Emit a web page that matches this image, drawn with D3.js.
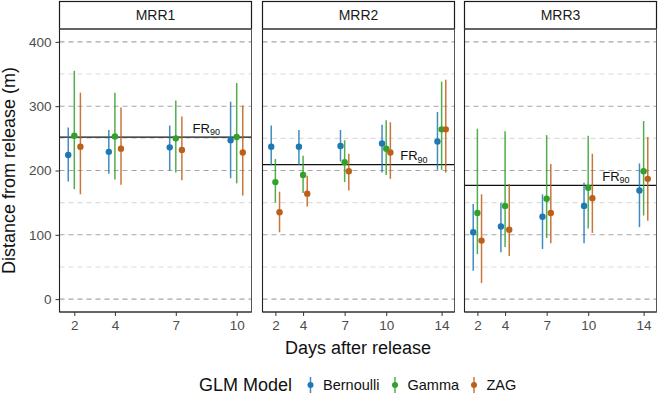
<!DOCTYPE html>
<html>
<head>
<meta charset="utf-8">
<script src="https://cdn.jsdelivr.net/npm/d3@7"></script>
<style>
  body { margin: 0; background: #fff; }
  svg { font-family: "Liberation Sans", Arial, sans-serif; }
</style>
</head>
<body>
<div id="chart"></div>
<script>
// Data
const panels = ["MRR1", "MRR2", "MRR3"];
const models = ["Bernoulli", "Gamma", "ZAG"];
const panelDays = [[2, 4, 7, 10], [2, 4, 7, 10, 14], [2, 4, 7, 10, 14]];
const yTicks = [0, 100, 200, 300, 400];
const yMinor = [50, 150, 250, 350];

// estimate / lower / upper per model, one inner array per panel
const bernoulliEst = [[224, 229, 236, 247], [237, 237, 238, 242, 245], [104, 113, 128, 145, 169]];
const bernoulliLo  = [[183, 195, 200, 188], [208, 208, 214, 197, 201], [44, 73, 78, 87, 112]];
const bernoulliHi  = [[267, 263, 270, 307], [270, 263, 263, 271, 291], [148, 150, 163, 181, 211]];

const gammaEst = [[254, 253, 250, 252], [182, 193, 213, 234, 264], [134, 145, 156, 173, 199]];
const gammaLo  = [[171, 186, 197, 180], [150, 165, 182, 193, 201], [70, 81, 95, 110, 130]];
const gammaHi  = [[355, 321, 309, 336], [218, 223, 247, 278, 338], [265, 261, 255, 254, 277]];

const zagEst = [[237, 234, 232, 228], [135, 164, 199, 228, 264], [91, 108, 134, 157, 187]];
const zagLo  = [[163, 178, 185, 161], [104, 144, 169, 187, 197], [25, 67, 87, 103, 122]];
const zagHi  = [[321, 298, 284, 301], [167, 192, 226, 275, 341], [163, 179, 210, 226, 252]];

const fr90 = [252, 209, 177];
const fr90LabelDay = [8.5, 12, 12];

const series = {
    Bernoulli: { est: bernoulliEst, lo: bernoulliLo, hi: bernoulliHi },
    Gamma: { est: gammaEst, lo: gammaLo, hi: gammaHi },
    ZAG: { est: zagEst, lo: zagLo, hi: zagHi }
};

const color = d3.scaleOrdinal()
    .domain(models)
    .range(["#1F78B4", "#33A02C", "#BD5F17"]);

// layout
const W = 658, H = 396;
const panelLeft = [59.5, 262.5, 464.5];
const panelW = 192;
const stripTop = 1.5, stripH = 27.5;
const plotTop = 29, plotBottom = 312;
const dodge = 0.3;

const svg = d3.select("#chart").append("svg")
    .attr("width", W)
    .attr("height", H);

const y = d3.scaleLinear()
    .domain([-20, 420])
    .range([plotBottom, plotTop]);

panels.forEach((name, p) => {
    const days = panelDays[p];
    const lo = d3.min(days) - dodge, hi = d3.max(days) + dodge;
    const pad = (hi - lo) * 0.05;
    const x = d3.scaleLinear()
        .domain([lo - pad, hi + pad])
        .range([panelLeft[p], panelLeft[p] + panelW]);

    const g = svg.append("g");

    // strip
    g.append("rect")
        .attr("x", panelLeft[p])
        .attr("y", stripTop)
        .attr("width", panelW)
        .attr("height", stripH)
        .attr("fill", "#fff")
        .attr("stroke", "#1a1a1a")
        .attr("stroke-width", 1.2);

    g.append("text")
        .attr("x", panelLeft[p] + panelW / 2)
        .attr("y", stripTop + stripH / 2)
        .attr("dy", "0.36em")
        .attr("text-anchor", "middle")
        .style("font-size", "14px")
        .attr("fill", "#1a1a1a")
        .text(name);

    // gridlines
    g.selectAll(".minor")
        .data(yMinor)
        .enter().append("line")
        .attr("x1", panelLeft[p]).attr("x2", panelLeft[p] + panelW)
        .attr("y1", d => y(d)).attr("y2", d => y(d))
        .attr("stroke", "#dcdcdc")
        .attr("stroke-width", 1.1)
        .attr("stroke-dasharray", "5,4");

    g.selectAll(".major")
        .data(yTicks)
        .enter().append("line")
        .attr("x1", panelLeft[p]).attr("x2", panelLeft[p] + panelW)
        .attr("y1", d => y(d)).attr("y2", d => y(d))
        .attr("stroke", "#a6a6a6")
        .attr("stroke-width", 1.1)
        .attr("stroke-dasharray", "5,4");

    // FR90 line + label
    g.append("line")
        .attr("x1", panelLeft[p]).attr("x2", panelLeft[p] + panelW)
        .attr("y1", y(fr90[p])).attr("y2", y(fr90[p]))
        .attr("stroke", "#111")
        .attr("stroke-width", 1.2);

    const lab = g.append("text")
        .attr("x", x(fr90LabelDay[p]))
        .attr("y", y(fr90[p]) - 4.5)
        .attr("text-anchor", "middle")
        .style("font-size", "13px")
        .attr("fill", "#111");
    lab.append("tspan").text("FR");
    lab.append("tspan")
        .attr("dy", 2.5)
        .style("font-size", "9px")
        .text("90");

    // error bars and points
    models.forEach((m, k) => {
        const s = series[m];
        const rows = days.map((d, i) => ({
            day: d,
            est: s.est[p][i],
            lo: s.lo[p][i],
            hi: s.hi[p][i]
        }));
        const off = (k - 1) * dodge;

        g.selectAll(".range-" + m)
            .data(rows)
            .enter().append("line")
            .attr("x1", d => x(d.day + off))
            .attr("x2", d => x(d.day + off))
            .attr("y1", d => y(d.lo))
            .attr("y2", d => y(d.hi))
            .attr("stroke", color(m))
            .attr("stroke-opacity", 0.85)
            .attr("stroke-width", 1.5);

        g.selectAll(".pt-" + m)
            .data(rows)
            .enter().append("circle")
            .attr("cx", d => x(d.day + off))
            .attr("cy", d => y(d.est))
            .attr("r", 3.2)
            .attr("fill", color(m));
    });

    // panel border
    g.append("rect")
        .attr("x", panelLeft[p])
        .attr("y", plotTop)
        .attr("width", panelW)
        .attr("height", plotBottom - plotTop)
        .attr("fill", "none")
        .attr("stroke", "#555")
        .attr("stroke-width", 1);

    // axis lines
    g.append("line")
        .attr("x1", panelLeft[p]).attr("x2", panelLeft[p])
        .attr("y1", plotTop).attr("y2", plotBottom)
        .attr("stroke", "#222").attr("stroke-width", 1.1);
    g.append("line")
        .attr("x1", panelLeft[p]).attr("x2", panelLeft[p] + panelW)
        .attr("y1", plotBottom).attr("y2", plotBottom)
        .attr("stroke", "#222").attr("stroke-width", 1.1);

    // x axis
    const xAxis = g.append("g")
        .attr("transform", `translate(0,${plotBottom})`)
        .call(d3.axisBottom(x).tickValues(days).tickSize(4).tickPadding(4));
    xAxis.select(".domain").remove();
    xAxis.selectAll("line").attr("stroke", "#333");
    xAxis.selectAll("text")
        .style("font-size", "13.5px")
        .style("font-family", "Liberation Sans, Arial, sans-serif")
        .attr("fill", "#4d4d4d");

    // y axis on the first panel only
    if (p === 0) {
        const yAxis = g.append("g")
            .attr("transform", `translate(${panelLeft[p]},0)`)
            .call(d3.axisLeft(y).tickValues(yTicks).tickSize(4).tickPadding(4));
        yAxis.select(".domain").remove();
        yAxis.selectAll("line").attr("stroke", "#333");
        yAxis.selectAll("text")
            .style("font-size", "13.5px")
            .style("font-family", "Liberation Sans, Arial, sans-serif")
            .attr("fill", "#4d4d4d");
    }
});

// axis titles
svg.append("text")
    .attr("x", (panelLeft[0] + panelLeft[2] + panelW) / 2)
    .attr("y", 354)
    .attr("text-anchor", "middle")
    .style("font-size", "18px")
    .attr("fill", "#111")
    .text("Days after release");

svg.append("text")
    .attr("transform", `translate(15,${(plotTop + plotBottom) / 2}) rotate(-90)`)
    .attr("text-anchor", "middle")
    .style("font-size", "18px")
    .attr("fill", "#111")
    .text("Distance from release (m)");

// legend
const legendY = 385;
const legend = svg.append("g");
legend.append("text")
    .attr("x", 199)
    .attr("y", legendY)
    .attr("dy", "0.36em")
    .style("font-size", "18px")
    .attr("fill", "#111")
    .text("GLM Model");

const keyX = [310.5, 395, 474];
const items = legend.selectAll(".legend-item")
    .data(models)
    .enter().append("g")
    .attr("class", "legend-item")
    .attr("transform", (d, i) => `translate(${keyX[i]},${legendY})`);

items.append("line")
    .attr("y1", -8).attr("y2", 8)
    .attr("stroke", d => color(d))
    .attr("stroke-opacity", 0.85)
    .attr("stroke-width", 1.5);

items.append("circle")
    .attr("r", 3)
    .attr("fill", d => color(d));

items.append("text")
    .attr("x", 12.5)
    .attr("dy", "0.36em")
    .style("font-size", "14.5px")
    .attr("fill", "#111")
    .text(d => d);
</script>
</body>
</html>
